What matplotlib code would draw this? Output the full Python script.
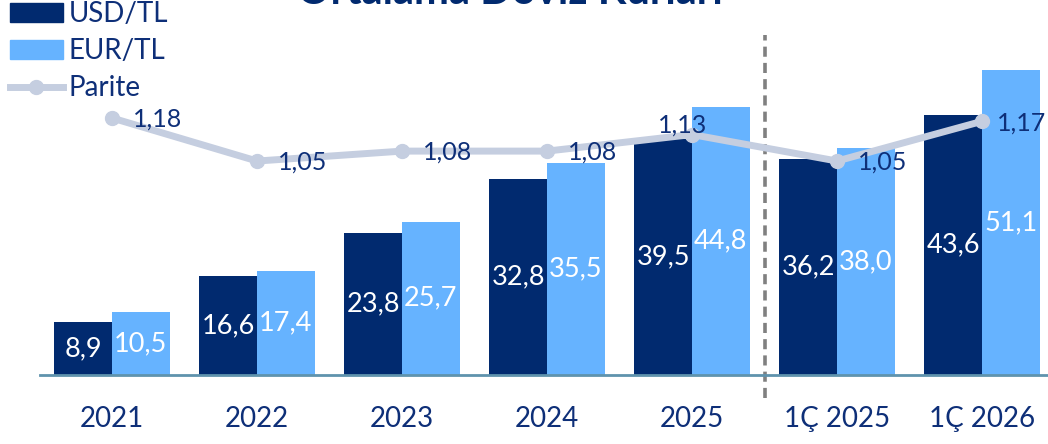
import matplotlib
matplotlib.use("Agg")
import matplotlib.pyplot as plt
import numpy as np
from matplotlib.patches import Patch
from matplotlib.lines import Line2D

plt.rcParams['font.family'] = ['Lato', 'DejaVu Sans']

categories = ["2021", "2022", "2023", "2024", "2025", "1Ç 2025", "1Ç 2026"]
usd_tl = [8.9, 16.6, 23.8, 32.8, 39.5, 36.2, 43.6]
eur_tl = [10.5, 17.4, 25.7, 35.5, 44.8, 38.0, 51.1]
parite = [1.18, 1.05, 1.08, 1.08, 1.13, 1.05, 1.17]

NAVY = "#012A6F"
LIGHT = "#66B3FF"
LINE = "#C5CEE0"
TEXT = "#0E2F78"

W, H = 1048, 444
fig = plt.figure(figsize=(W / 100, H / 100), dpi=100)
ax = fig.add_axes([40 / W, (H - 375) / H, (W - 40) / W, 375 / H])

x = np.arange(len(categories))
bw = 0.397
b1 = ax.bar(x - bw / 2, usd_tl, bw, color=NAVY, zorder=2)
b2 = ax.bar(x + bw / 2, eur_tl, bw, color=LIGHT, zorder=2)

for bars, vals in ((b1, usd_tl), (b2, eur_tl)):
    for r, v in zip(bars, vals):
        ax.text(r.get_x() + r.get_width() / 2, v / 2, f"{v:.1f}".replace(".", ","),
                ha="center", va="center", color="white", fontsize=19.5, zorder=5)

ax.set_xlim(-0.497, 6.455)
ax.set_ylim(0, 62.8)
ax.set_xticks(x)
ax.set_xticklabels(categories, fontsize=20, color=TEXT)
ax.tick_params(axis="x", length=0, pad=22)
ax.set_yticks([])
for s in ("top", "right", "left"):
    ax.spines[s].set_visible(False)
ax.spines["bottom"].set_color("#5F93AD")
ax.spines["bottom"].set_linewidth(2)

# separator between annual and quarterly figures
ax.plot([4.5, 4.5], [-3.8, 56.9], ls=(0, (2.8, 1.7)), color="#808080", lw=2.6,
        clip_on=False, zorder=1)

ax2 = ax.twinx()
ax2.set_ylim(0.4036, 1.5365)
ax2.axis("off")
ax2.plot(x, parite, color=LINE, lw=5, marker="o", ms=10, zorder=3)
for i, v in enumerate(parite):
    lab = f"{v:.2f}".replace(".", ",")
    if i == 4:
        ax2.annotate(lab, (x[i], v), xytext=(-7, 7), textcoords="offset points",
                     ha="center", va="center", fontsize=18, color=TEXT)
    else:
        dx = 11 if i == len(parite) - 1 else 15
        ax2.annotate(lab, (x[i], v), xytext=(dx, -1), textcoords="offset points",
                     ha="left", va="center", fontsize=18, color=TEXT)

handles = [Patch(color=NAVY), Patch(color=LIGHT),
           Line2D([], [], color=LINE, lw=5, marker="o", ms=10)]
fig.legend(handles, ["USD/TL", "EUR/TL", "Parite"], loc="upper left",
           bbox_to_anchor=(10 / W, 1 - 1 / H), frameon=False, fontsize=20,
           labelcolor=TEXT, handlelength=1.9, handleheight=0.65,
           handletextpad=0.2, labelspacing=0.4, borderaxespad=0, borderpad=0)

fig.text(0.487, 1 - 4 / H, "Ortalama Döviz Kurları", ha="center", va="baseline",
         fontsize=30, fontweight="bold", color=NAVY)

fig.savefig("out.png", dpi=100)
